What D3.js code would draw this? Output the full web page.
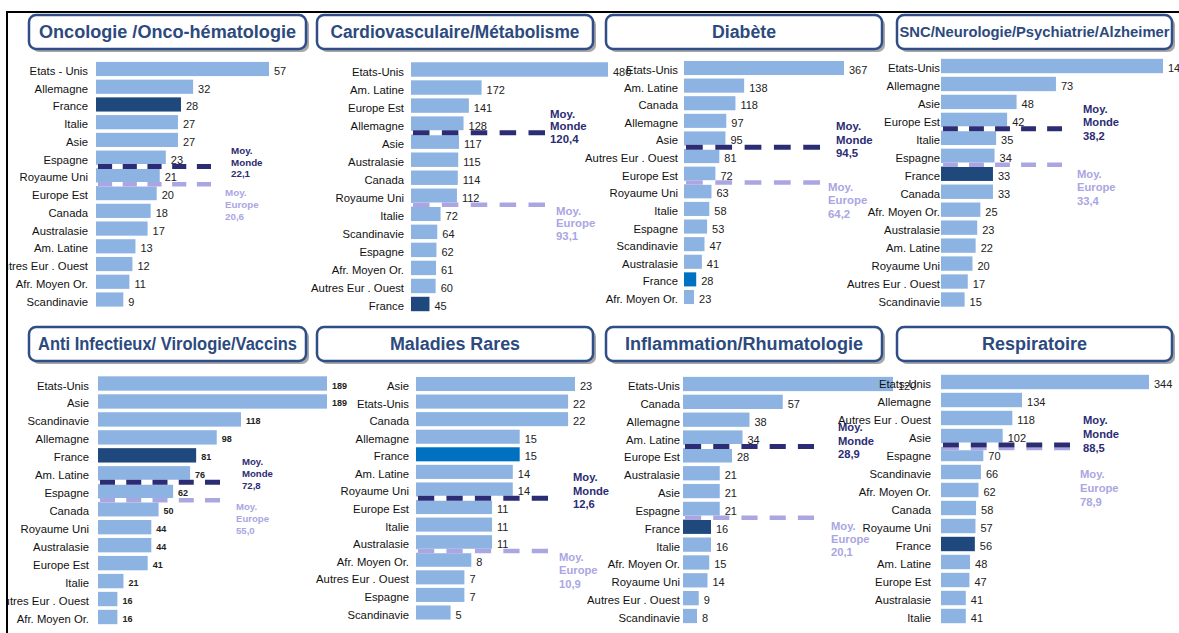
<!DOCTYPE html>
<html>
<head>
<meta charset="utf-8">
<script src="https://cdn.jsdelivr.net/npm/d3@7"></script>
<style>
  html, body { margin: 0; padding: 0; background: #fff; }
  svg { display: block; font-family: "Liberation Sans", Arial, sans-serif; }
</style>
</head>
<body>
<svg id="chart" width="1179" height="633"></svg>
<script>
// ---- data ----
const titles = [
  "Oncologie /Onco-hématologie", "Cardiovasculaire/Métabolisme", "Diabète",
  "SNC/Neurologie/Psychiatrie/Alzheimer", "Anti Infectieux/ Virologie/Vaccins",
  "Maladies Rares", "Inflammation/Rhumatologie", "Respiratoire"
];

const oncoCats = ["Etats - Unis", "Allemagne", "France", "Italie", "Asie", "Espagne", "Royaume Uni",
  "Europe Est", "Canada", "Australasie", "Am. Latine", "Autres Eur . Ouest", "Afr. Moyen Or.", "Scandinavie"];
const oncoVals = [57, 32, 28, 27, 27, 23, 21, 20, 18, 17, 13, 12, 11, 9];

const cardioCats = ["Etats-Unis", "Am. Latine", "Europe Est", "Allemagne", "Asie", "Australasie", "Canada",
  "Royaume Uni", "Italie", "Scandinavie", "Espagne", "Afr. Moyen Or.", "Autres Eur . Ouest", "France"];
const cardioVals = [480, 172, 141, 128, 117, 115, 114, 112, 72, 64, 62, 61, 60, 45];

const diabCats = ["Etats-Unis", "Am. Latine", "Canada", "Allemagne", "Asie", "Autres Eur . Ouest", "Europe Est",
  "Royaume Uni", "Italie", "Espagne", "Scandinavie", "Australasie", "France", "Afr. Moyen Or."];
const diabVals = [367, 138, 118, 97, 95, 81, 72, 63, 58, 53, 47, 41, 28, 23];

const sncCats = ["Etats-Unis", "Allemagne", "Asie", "Europe Est", "Italie", "Espagne", "France", "Canada",
  "Afr. Moyen Or.", "Australasie", "Am. Latine", "Royaume Uni", "Autres Eur . Ouest", "Scandinavie"];
const sncVals = [141, 73, 48, 42, 35, 34, 33, 33, 25, 23, 22, 20, 17, 15];

const infCats = ["Etats-Unis", "Asie", "Scandinavie", "Allemagne", "France", "Am. Latine", "Espagne", "Canada",
  "Royaume Uni", "Australasie", "Europe Est", "Italie", "Autres Eur . Ouest", "Afr. Moyen Or."];
const infVals = [189, 189, 118, 98, 81, 76, 62, 50, 44, 44, 41, 21, 16, 16];

const rareCats = ["Asie", "Etats-Unis", "Canada", "Allemagne", "France", "Am. Latine", "Royaume Uni", "Europe Est",
  "Italie", "Australasie", "Afr. Moyen Or.", "Autres Eur . Ouest", "Espagne", "Scandinavie"];
const rareVals = [23, 22, 22, 15, 15, 14, 14, 11, 11, 11, 8, 7, 7, 5];

const rhumCats = ["Etats-Unis", "Canada", "Allemagne", "Am. Latine", "Europe Est", "Australasie", "Asie", "Espagne",
  "France", "Italie", "Afr. Moyen Or.", "Royaume Uni", "Autres Eur . Ouest", "Scandinavie"];
const rhumVals = [120, 57, 38, 34, 28, 21, 21, 21, 16, 16, 15, 14, 9, 8];

const respCats = ["Etats-Unis", "Allemagne", "Autres Eur . Ouest", "Asie", "Espagne", "Scandinavie", "Afr. Moyen Or.",
  "Canada", "Royaume Uni", "France", "Am. Latine", "Europe Est", "Australasie", "Italie"];
const respVals = [344, 134, 118, 102, 70, 66, 62, 58, 57, 56, 48, 47, 41, 41];

const mondeAvg  = [22.1, 120.4, 94.5, 38.2, 72.8, 12.6, 28.9, 88.5];
const europeAvg = [20.6, 93.1, 64.2, 33.4, 55.0, 10.9, 20.1, 78.9];

const catsByPanel = [oncoCats, cardioCats, diabCats, sncCats, infCats, rareCats, rhumCats, respCats];
const valsByPanel = [oncoVals, cardioVals, diabVals, sncVals, infVals, rareVals, rhumVals, respVals];

// ---- layout (pixel positions per panel) ----
const layout = [
  { box: [29, 15, 277, 34], tSize: 18, tLen: 257, x0: 96,  x1: 269,  y0: 69,   y1: 299.5, gap: 8,  vSize: 11,  aSize: 9.8,  aLh: 11.7, lineEnd: 211,  mX: 231,  mDy: -12.5, eX: 225,  eDy: 12, france: "#1f497d" },
  { box: [317, 15, 276, 34], tSize: 18, tLen: 249, x0: 411, x1: 608,  y0: 69.5, y1: 304,   gap: 7,  vSize: 11,  aSize: 11.4, aLh: 12.7, lineEnd: 545,  mX: 550,  mDy: -15,   eX: 556,  eDy: 10, france: "#1f497d" },
  { box: [606, 15, 276, 34], tSize: 18, tLen: 64,  x0: 684, x1: 844,  y0: 68,   y1: 297,   gap: 6,  vSize: 11,  aSize: 11.4, aLh: 13.5, lineEnd: 820,  mX: 836,  mDy: -17,   eX: 828,  eDy: 8,  france: "#0070c0" },
  { box: [897, 15, 275, 34], tSize: 15, tLen: 270, x0: 941, x1: 1163, y0: 66,   y1: 299.5, gap: 1,  vSize: 11,  aSize: 11.2, aLh: 13.5, lineEnd: 1062, mX: 1083, mDy: -16,   eX: 1077, eDy: 13, france: "#1f497d" },
  { box: [29, 327, 277, 34], tSize: 18, tLen: 259, x0: 98,  x1: 327,  y0: 383.5,y1: 617,   gap: 9,  vSize: 9,   aSize: 9.6,  aLh: 12,   lineEnd: 220,  mX: 242,  mDy: -17,   eX: 236,  eDy: 10, france: "#1f497d" },
  { box: [317, 327, 276, 34], tSize: 18, tLen: 130, x0: 416, x1: 575,  y0: 384,  y1: 612.5, gap: 7,  vSize: 11,  aSize: 11.2, aLh: 13.5, lineEnd: 548,  mX: 573,  mDy: -17,   eX: 559,  eDy: 10, france: "#0070c0" },
  { box: [606, 327, 276, 34], tSize: 18, tLen: 238, x0: 683, x1: 893,  y0: 384,  y1: 616,   gap: 3,  vSize: 11,  aSize: 11.2, aLh: 13.3, lineEnd: 814,  mX: 838,  mDy: -15,   eX: 831,  eDy: 12, france: "#1f497d" },
  { box: [897, 327, 275, 34], tSize: 18, tLen: 105, x0: 941, x1: 1149, y0: 382,  y1: 616,   gap: 10, vSize: 11,  aSize: 11.2, aLh: 14,   lineEnd: 1070, mX: 1083, mDy: -21,   eX: 1080, eDy: 30, france: "#1f497d" }
];

const barColor = "#8db3e2";
const mondeColor = "#2b2c73";
const europeColor = "#aaa6e2";
const titleColor = "#2c4a7e";
const fmt = v => d3.format(".1f")(v).replace(".", ",");

const svg = d3.select("#chart");
svg.append("rect").attr("width", 1179).attr("height", 633).attr("fill", "#fff");

layout.forEach((L, i) => {
  const cats = catsByPanel[i], vals = valsByPanel[i];
  const g = svg.append("g");

  // title box with shadow
  const [bx, by, bw, bh] = L.box;
  g.append("rect").attr("x", bx + 3).attr("y", by + 3).attr("width", bw).attr("height", bh)
    .attr("rx", 7).attr("fill", "#8a8a8a").attr("opacity", 0.75);
  g.append("rect").attr("x", bx).attr("y", by).attr("width", bw).attr("height", bh)
    .attr("rx", 7).attr("fill", "#fff").attr("stroke", "#2f4d86").attr("stroke-width", 2.5);
  g.append("text").attr("x", bx + bw / 2).attr("y", by + bh / 2 + (L.tSize > 16 ? 6 : 5))
    .attr("text-anchor", "middle").attr("font-weight", "bold").attr("font-size", L.tSize)
    .attr("fill", titleColor).attr("textLength", L.tLen).attr("lengthAdjust", "spacingAndGlyphs")
    .text(titles[i]);

  // scales
  const x = d3.scaleLinear().domain([0, d3.max(vals)]).range([L.x0, L.x1]);
  const y = d3.scalePoint().domain(cats).range([L.y0, L.y1]);
  const bh2 = y.step() * 0.8;

  const rows = cats.map((c, k) => ({ cat: c, val: vals[k] }));

  g.selectAll("rect.bar").data(rows).join("rect")
    .attr("class", "bar")
    .attr("x", x(0))
    .attr("y", d => y(d.cat) - bh2 / 2)
    .attr("width", d => x(d.val) - x(0))
    .attr("height", bh2)
    .attr("fill", d => d.cat === "France" ? L.france : barColor);

  g.selectAll("text.cat").data(rows).join("text")
    .attr("class", "cat")
    .attr("x", x(0) - L.gap)
    .attr("y", d => y(d.cat) + 6)
    .attr("text-anchor", "end")
    .attr("font-size", 11.3)
    .attr("fill", "#111")
    .text(d => d.cat);

  g.selectAll("text.val").data(rows).join("text")
    .attr("class", "val")
    .attr("x", d => x(d.val) + 5)
    .attr("y", d => y(d.cat) + (L.vSize < 10 ? 5 : 6))
    .attr("font-size", L.vSize)
    .attr("font-weight", L.vSize < 10 ? "bold" : "normal")
    .attr("fill", "#222")
    .text(d => d.val);

  // average lines: placed between the last row >= avg and the next row
  const boundaryY = avg => {
    let k = vals.findIndex(v => v < avg);
    if (k <= 0) k = vals.length - 1;
    return (y(cats[k - 1]) + y(cats[k])) / 2;
  };
  const ym = boundaryY(mondeAvg[i]);
  let ye = boundaryY(europeAvg[i]);
  if (Math.abs(ye - ym) < 1) ye += 3;

  const dashLine = (yy, color, w) => {
    const len = L.lineEnd - (L.x0 + 2);
    const d = len / 8;
    g.append("line").attr("x1", L.x0 + 2).attr("x2", L.lineEnd).attr("y1", yy).attr("y2", yy)
      .attr("stroke", "#fff").attr("stroke-width", w);
    g.append("line").attr("x1", L.x0 + 2).attr("x2", L.lineEnd).attr("y1", yy).attr("y2", yy)
      .attr("stroke", color).attr("stroke-width", w)
      .attr("stroke-dasharray", `${d},${d * 0.75}`);
  };
  dashLine(ye, europeColor, 4.5);
  dashLine(ym, mondeColor, 5);

  const avgLabel = (xx, yy, lines, color) => {
    const t = g.append("text").attr("x", xx).attr("y", yy)
      .attr("font-size", L.aSize).attr("font-weight", "bold").attr("fill", color);
    lines.forEach((s, k) => t.append("tspan").attr("x", xx).attr("y", yy + k * L.aLh).text(s));
  };
  avgLabel(L.mX, ym + L.mDy, ["Moy.", "Monde", fmt(mondeAvg[i])], mondeColor);
  avgLabel(L.eX, ye + L.eDy, ["Moy.", "Europe", fmt(europeAvg[i])], europeColor);
});

// page frame (clipped on the left, top line and left line)
svg.append("rect").attr("x", 0).attr("y", 0).attr("width", 7).attr("height", 633).attr("fill", "#fff");
svg.append("rect").attr("x", 0).attr("y", 0).attr("width", 1179).attr("height", 11).attr("fill", "#fff");
svg.append("line").attr("x1", 7).attr("x2", 1179).attr("y1", 12).attr("y2", 12)
  .attr("stroke", "#000").attr("stroke-width", 2);
svg.append("line").attr("x1", 7).attr("x2", 7).attr("y1", 11).attr("y2", 633)
  .attr("stroke", "#000").attr("stroke-width", 2);
</script>
</body>
</html>
